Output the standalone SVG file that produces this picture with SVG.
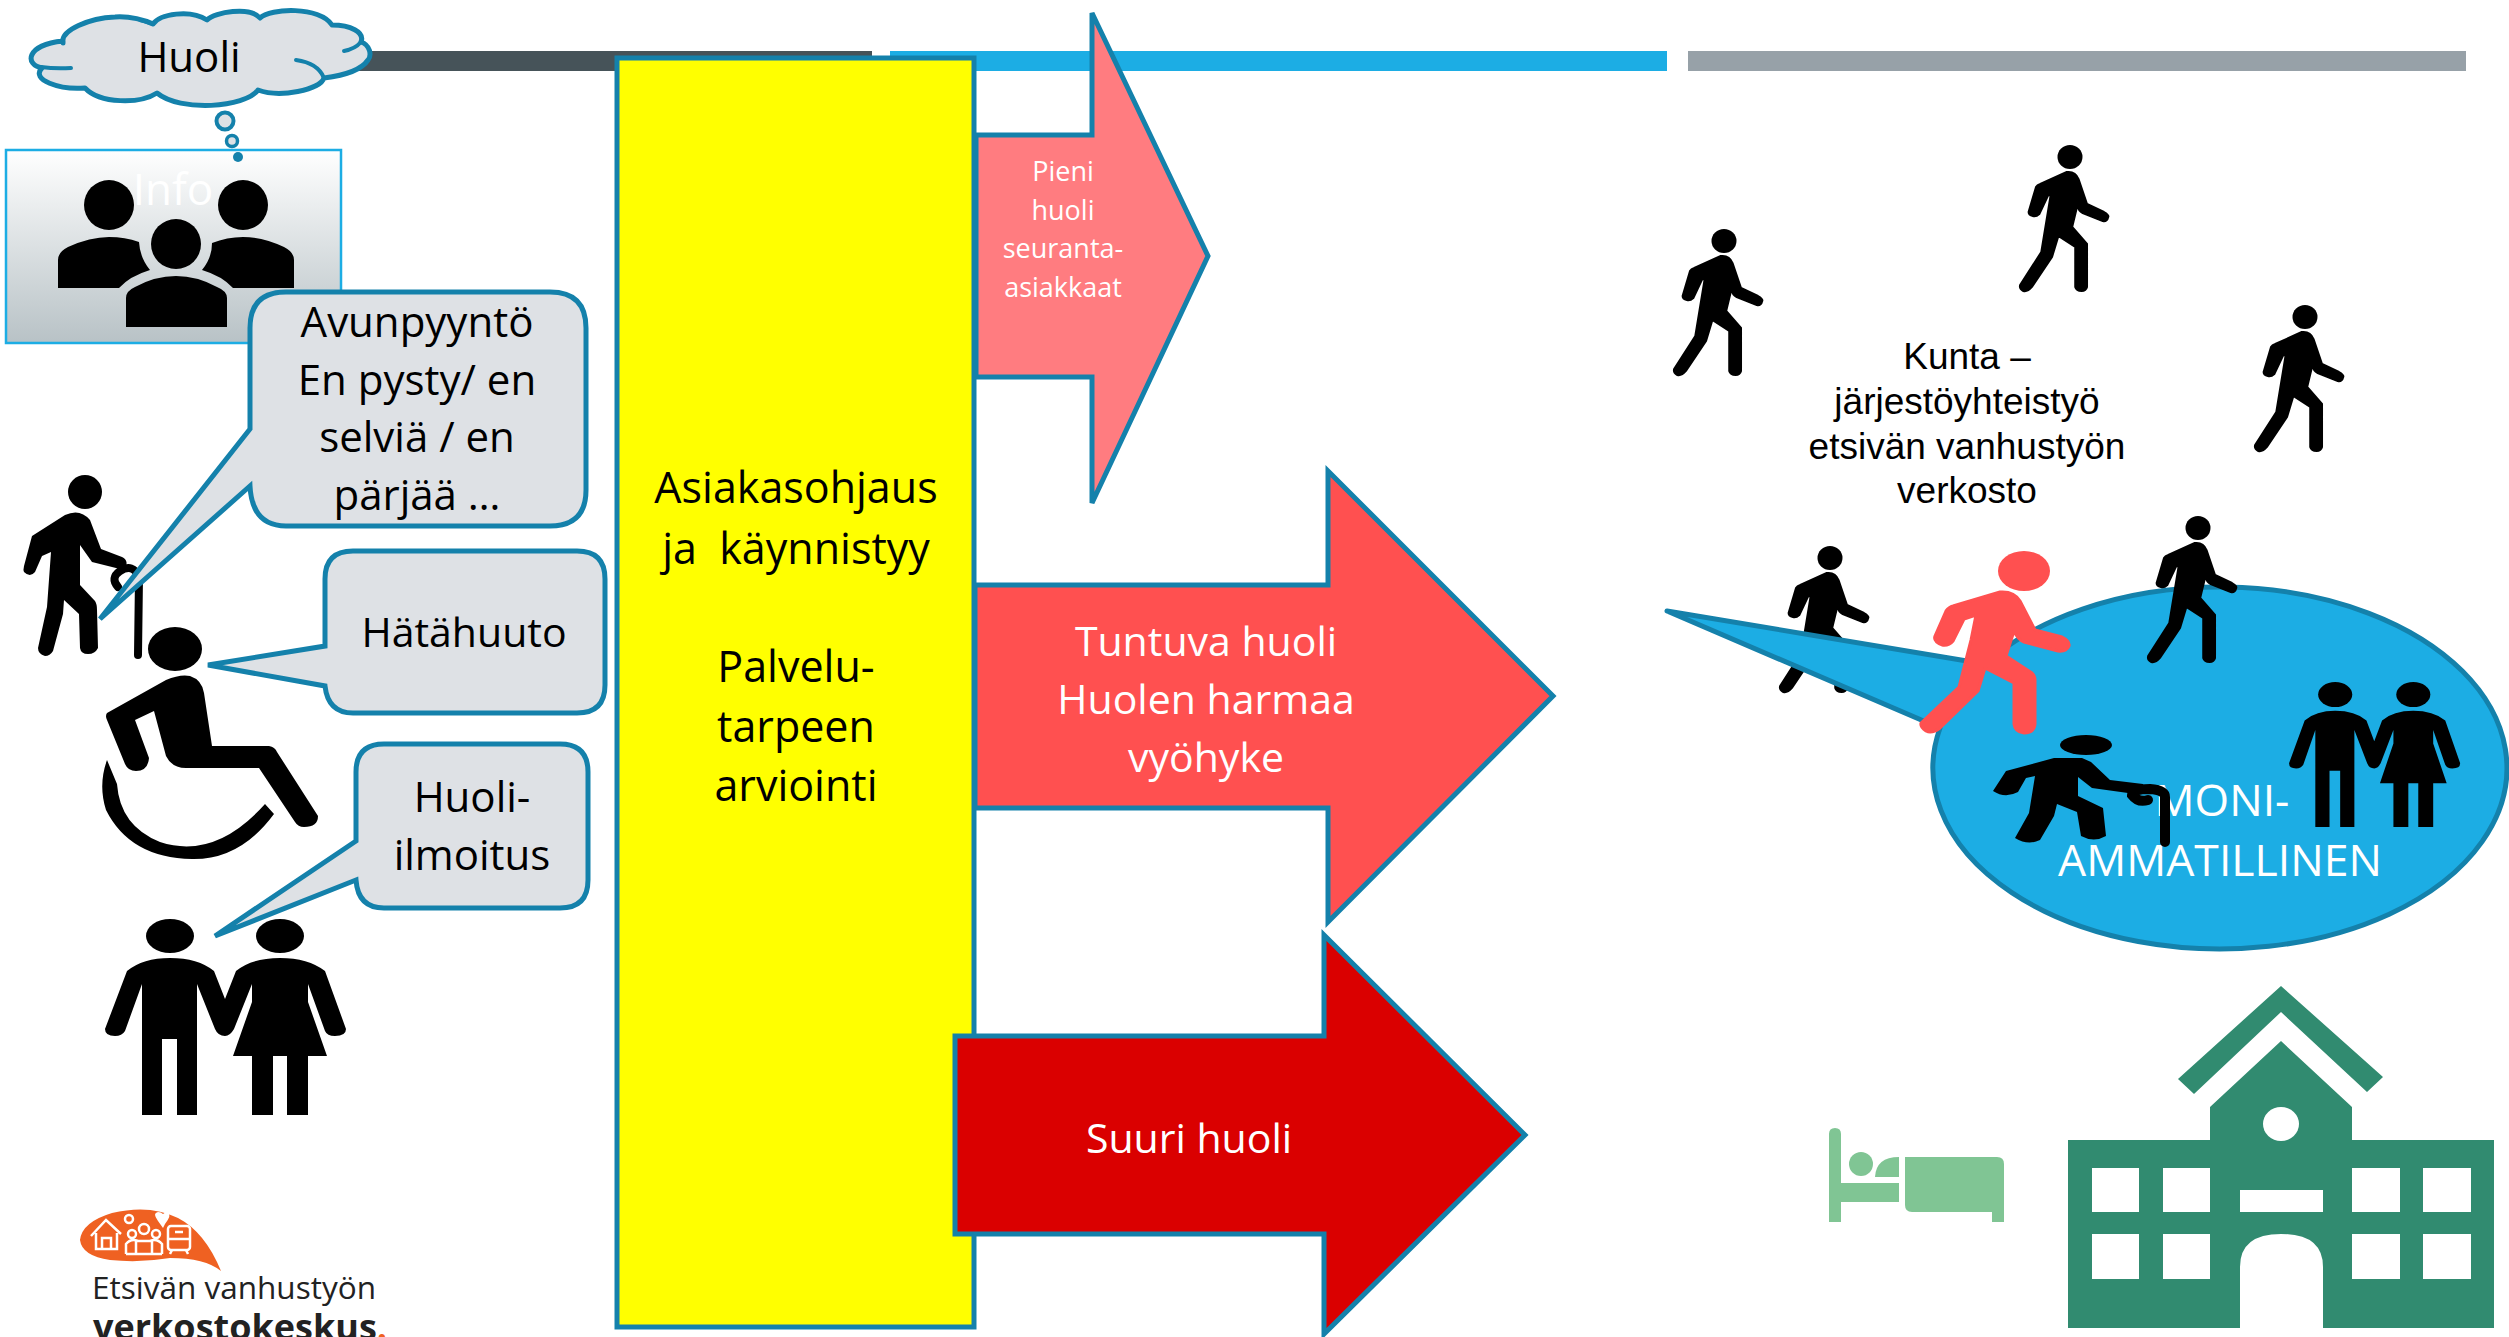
<svg xmlns="http://www.w3.org/2000/svg" width="2509" height="1337" viewBox="0 0 2509 1337">
<style>
.ln{stroke:#1481AB;stroke-width:5;stroke-linejoin:miter}
.call{fill:#DEE1E5}
.t{font-family:"Open Sans","Noto Sans",sans-serif;text-anchor:middle}
.k{fill:#000}.w{fill:#fff}
</style>
<defs>
<linearGradient id="ig" x1="0" y1="0" x2="0" y2="1"><stop offset="0" stop-color="#fff"/><stop offset="1" stop-color="#B8C2C6"/></linearGradient>
<g id="walker">
<ellipse cx="0" cy="0" rx="12.5" ry="12"/>
<path transform="scale(1.06 1)" stroke="#000" stroke-width="2" stroke-linejoin="round" d="M-3 15Q5 14 8 22L16 47L32 55Q37 58 36 60Q35 65 31 64L12 56Q8 54 7 48L2 70L16 87V130Q15 134 11 134Q6 134 5 130V90L-11 79L-17 100L-36 130Q-40 135 -44 134Q-48 132 -47 128L-27 95L-18 37L-21 39L-29 57Q-32 60 -35 59Q-39 58 -39 55L-32 30Q-31 28 -28 27Z"/>
</g>
<g id="couple">
<ellipse cx="170" cy="936" rx="24" ry="17"/><ellipse cx="280" cy="936" rx="24" ry="17"/>
<path d="M170 958Q198 958 214 971L225 999L236 971Q252 958 280 958Q308 958 325 971L346 1029Q346 1036 335 1036Q327 1036 325 1031L308 984L308 1002L327 1056L308 1056L308 1115L287 1115L287 1056L273 1056L273 1115L252 1115L252 1056L233 1056L252 1002L252 984L234 1029Q230 1036 225 1036Q218 1036 215 1029L197 984L197 1115L177 1115L177 1039L162 1039L162 1115L142 1115L142 984L125 1031Q122 1036 115 1036Q105 1036 105 1029L127 971Q143 958 170 958Z"/>
</g>
</defs>

<g id="bars">
<rect x="330" y="51" width="542" height="20" fill="#465359"/>
<rect x="890" y="51" width="777" height="20" fill="#1CADE4"/>
<rect x="1688" y="51" width="778" height="20" fill="#97A1A8"/>
</g>

<g id="connectors"></g>

<g id="info">
<rect x="6" y="150" width="335" height="193" fill="url(#ig)" stroke="#1CADE4" stroke-width="2.5"/>
<text class="t w" x="173" y="205" font-size="44">Info</text>
<circle cx="109" cy="205" r="25"/><circle cx="243" cy="205" r="25"/>
<path d="M58 288V260Q58 252 68 247Q90 237 109 237Q125 237 139 242Q140 258 150 270Q130 276 119 288Z"/>
<path d="M294 288V260Q294 252 284 247Q262 237 243 237Q227 237 212 243Q212 258 202 270Q222 276 233 288Z"/>
<circle cx="176" cy="244" r="25"/>
<path d="M126 327V298Q126 291 135 287Q155 276 176 276Q197 276 217 287Q227 291 227 298V327Z"/>
</g>

<g id="huoli">
<path class="call" stroke="#1481AB" stroke-width="5" stroke-linejoin="round" d="M63 43C60 30 90 18 115 17C130 16 145 20 153 24C160 14 190 9 207 20C215 12 250 6 260 18C270 8 320 6 332 25C350 25 365 32 361 42C370 45 372 55 368 60C360 72 340 76 324 78C320 90 280 98 258 90C245 108 180 112 157 93C140 104 100 104 85 88C60 90 30 80 42 68C25 65 25 45 63 41Z"/>
<g fill="none" stroke="#1481AB" stroke-width="4" stroke-linecap="round"><path d="M41 67Q55 69 71 68"/><path d="M296 60Q318 63 324 78"/><path d="M344 51Q355 49 361 42"/><path d="M140 20Q148 22 153 24"/></g>
<text class="t" x="189" y="72" font-size="42">Huoli</text>
<circle cx="225" cy="121" r="8.5" fill="#DEE1E5" stroke="#1481AB" stroke-width="4"/>
<circle cx="232" cy="141" r="5.5" fill="#DEE1E5" stroke="#1481AB" stroke-width="3.5"/>
<circle cx="238" cy="157" r="5" fill="#1481AB"/>
</g>

<g id="elder">
<circle cx="85" cy="492" r="17"/>
<path d="M32 536L65 515Q80 508 90 520L101 549L122 557Q130 561 124 570L92 562L80 545L80 585L95 601Q97 604 97 610L98 648Q95 654 88 654Q81 654 80 648L79 614L64 600L63 614L53 651Q50 656 45 656Q38 654 38 648L47 607L51 552L42 556L35 572Q30 578 24 572Q23 570 24 566Z"/>
<path d="M118 587Q110 578 120 571Q133 563 139 577L138 655" fill="none" stroke="#000" stroke-width="8" stroke-linecap="round"/>
</g>
<g id="avunpyynto">
<path class="call ln" d="M286 292H550Q586 292 586 328V490Q586 526 550 526H286Q252 526 250 486L100 619L250 429V328Q250 292 286 292Z"/>
<g class="t" font-size="42"><text x="417" y="337">Avunpyyntö</text><text x="417" y="395">En pysty/ en</text><text x="417" y="452">selviä / en</text><text x="417" y="510">pärjää …</text></g>
</g>

<g id="wheelchair">
<ellipse cx="175" cy="649" rx="27" ry="22"/>
<path d="M107 713L166 680Q180 674 190 676Q202 680 204 693L212 746H269Q275 747 277 752L318 816Q318 827 304 827Q298 827 295 822L259 768H186Q172 768 166 756L154 711L135 720L149 758Q148 771 136 771Q128 771 125 764L107 720Q105 716 107 713Z"/>
<path d="M107 760L117 784Q120 826 160 842Q215 860 265 804L274 814Q240 860 192 859Q130 858 106 810Q98 785 107 760Z"/>
</g>
<g id="hatahuuto">
<path class="call ln" d="M353 551H577Q605 551 605 579V685Q605 713 577 713H353Q328 713 325 686L208 665L325 646V579Q325 551 353 551Z"/>
<text class="t" x="464" y="647" font-size="41">Hätähuuto</text>
</g>

<g id="couple-left"><use href="#couple"/></g>
<g id="huoli-ilmoitus">
<path class="call ln" d="M384 744H560Q588 744 588 772V880Q588 908 560 908H384Q358 908 356 880L215 936L356 841V772Q356 744 384 744Z"/>
<g class="t" font-size="42"><text x="472" y="812">Huoli-</text><text x="472" y="870">ilmoitus</text></g>
</g>

<g id="logo">
<path d="M80 1240Q82 1222 112 1213Q150 1204 178 1218Q205 1232 221 1271Q205 1258 170 1258Q140 1263 110 1260Q82 1256 80 1240Z" fill="#EF6122"/>
<g fill="none" stroke="#fff" stroke-width="2.5">
<path d="M91 1236L106 1220L121 1234M96 1233V1249H117V1233M102 1249V1238H111V1249"/>
<circle cx="129" cy="1219" r="4"/>
<circle cx="144" cy="1229" r="5"/><circle cx="132" cy="1234" r="4"/><circle cx="156" cy="1234" r="4"/>
<path d="M126 1254V1244Q131 1238 138 1241M162 1254V1244Q157 1238 150 1241M136 1254V1241H152V1254M126 1254H162"/>
<rect x="168" y="1226" width="22" height="24" rx="3"/><path d="M168 1239H190M172 1250L170 1254M186 1250L188 1254M175 1232H183"/>
</g>
<path d="M158 1221Q152 1213 158 1212Q161 1212 163 1214Q165 1212 168 1212Q172 1215 165 1224L163 1228Z" fill="#fff"/>
<g class="t" fill="#222"><text x="234" y="1299" font-size="31.5">Etsivän vanhustyön</text><text x="240" y="1340" font-size="36" font-weight="700">verkostokeskus<tspan fill="#EF6122">.</tspan></text></g>
</g>

<g id="asiakasohjaus">
<rect class="ln" x="617" y="58" width="357" height="1269" fill="#FFFF00"/>
<g class="t" font-size="43"><text x="796" y="503">Asiakasohjaus</text><text x="796" y="564" xml:space="preserve" style="white-space:pre">ja  käynnistyy</text><text x="796" y="682">Palvelu-</text><text x="796" y="742">tarpeen</text><text x="796" y="801">arviointi</text></g>
</g>

<g id="pieni">
<path class="ln" fill="#FF7C80" d="M976 135H1092V13L1208 256L1092 503V377H976Z"/>
<g class="t w" font-size="27"><text x="1063" y="181">Pieni</text><text x="1063" y="220">huoli</text><text x="1063" y="258">seuranta-</text><text x="1063" y="297">asiakkaat</text></g>
</g>
<g id="tuntuva">
<path class="ln" fill="#FF5050" d="M975 585H1328V471L1553 696L1328 922V808H975Z"/>
<g class="t w" font-size="41"><text x="1206" y="656">Tuntuva huoli</text><text x="1206" y="714">Huolen harmaa</text><text x="1206" y="772">vyöhyke</text></g>
</g>
<g id="suuri">
<path class="ln" fill="#DA0000" d="M955 1036H1324V935L1525 1135L1324 1334V1234H955Z"/>
<text class="t w" x="1189" y="1153" font-size="41">Suuri huoli</text>
</g>

<g id="walkers">
<use href="#walker" x="2070" y="157"/>
<use href="#walker" x="1724" y="241"/>
<use href="#walker" x="2305" y="317"/>
<use href="#walker" x="1830" y="558"/>
</g>
<g id="kunta" font-family="'Liberation Sans',Arial,sans-serif" font-size="37" text-anchor="middle">
<text x="1967" y="369">Kunta –</text><text x="1967" y="414">järjestöyhteistyö</text><text x="1967" y="459">etsivän vanhustyön</text><text x="1967" y="503">verkosto</text>
</g>

<g id="moniammatillinen">
<path d="M1985 664L1667 611L1940 728A287 181 0 1 0 1985 664Z" fill="#1CADE4" stroke="#1481AB" stroke-width="5" stroke-linejoin="round"/>
<g class="t w" font-size="44.5"><text x="2222" y="816">MONI-</text><text x="2220" y="876">AMMATILLINEN</text></g>
</g>
<g id="walker-on"><use href="#walker" x="2198" y="528"/></g>
<g id="red-walker" fill="#FF5050">
<ellipse cx="2024" cy="571" rx="26" ry="20"/>
<path stroke="#FF5050" stroke-width="3" stroke-linejoin="round" d="M1953 606L2000 592Q2014 591 2020 601L2035 630L2062 637Q2070 641 2069 646Q2066 652 2058 651L2024 642Q2018 640 2014 631L2006 656L2032 673Q2035 676 2035 680V724Q2034 733 2024 733Q2015 732 2014 724V683L1985 668L1978 691L1940 728Q1932 734 1926 731Q1920 727 1921 723L1959 687L1971 640L1976 615L1964 619L1953 641Q1949 646 1942 645Q1933 641 1935 636L1946 611Q1949 607 1953 606Z"/>
</g>
<g id="bent-elder">
<ellipse cx="2086" cy="745" rx="26" ry="10"/>
<path d="M2006 771L2054 758H2082L2091 762L2110 780L2143 784L2146 790L2128 793L2092 788L2078 777V796L2103 808L2106 836Q2094 843 2081 836L2077 812L2057 804L2054 816L2040 840Q2028 846 2015 838L2029 813L2035 776L2026 778L2018 792Q2005 799 1993 791Z"/>
<path d="M2165 842V797Q2165 790 2150 789Q2132 789 2132 795Q2138 803 2148 800" fill="none" stroke="#000" stroke-width="10" stroke-linecap="round"/>
</g>
<g id="couple-right" transform="translate(2214.5 1.9) scale(.71 .74)"><use href="#couple"/></g>

<g id="bed" fill="#80C594">
<path d="M1829 1134Q1829 1128 1835 1128Q1841 1128 1841 1134V1183H1899V1202H1841V1222H1829Z"/>
<circle cx="1861" cy="1164" r="12"/>
<path d="M1875 1177Q1876 1157 1899 1157V1177Z"/>
<path d="M1905 1157H1997Q2004 1157 2004 1164V1222H1992V1212H1912Q1905 1212 1905 1205Z"/>
</g>
<g id="building">
<path fill="#318B70" d="M2281 986L2383 1077L2367 1092L2281 1012L2194 1094L2178 1079Z"/>
<path fill="#318B70" fill-rule="evenodd" d="M2281 1041L2352 1107V1140H2494V1328H2323V1267Q2323 1234 2281 1234Q2240 1234 2240 1267V1328H2068V1140H2210V1107Z"/>
<g fill="#fff">
<ellipse cx="2281" cy="1124" rx="18" ry="17"/>
<rect x="2092" y="1168" width="47" height="44"/><rect x="2163" y="1168" width="47" height="44"/><rect x="2352" y="1168" width="48" height="44"/><rect x="2423" y="1168" width="48" height="44"/>
<rect x="2092" y="1234" width="47" height="45"/><rect x="2163" y="1234" width="47" height="45"/><rect x="2352" y="1234" width="48" height="45"/><rect x="2423" y="1234" width="48" height="45"/>
<rect x="2240" y="1190" width="83" height="22"/>
</g>
</g>
</svg>
